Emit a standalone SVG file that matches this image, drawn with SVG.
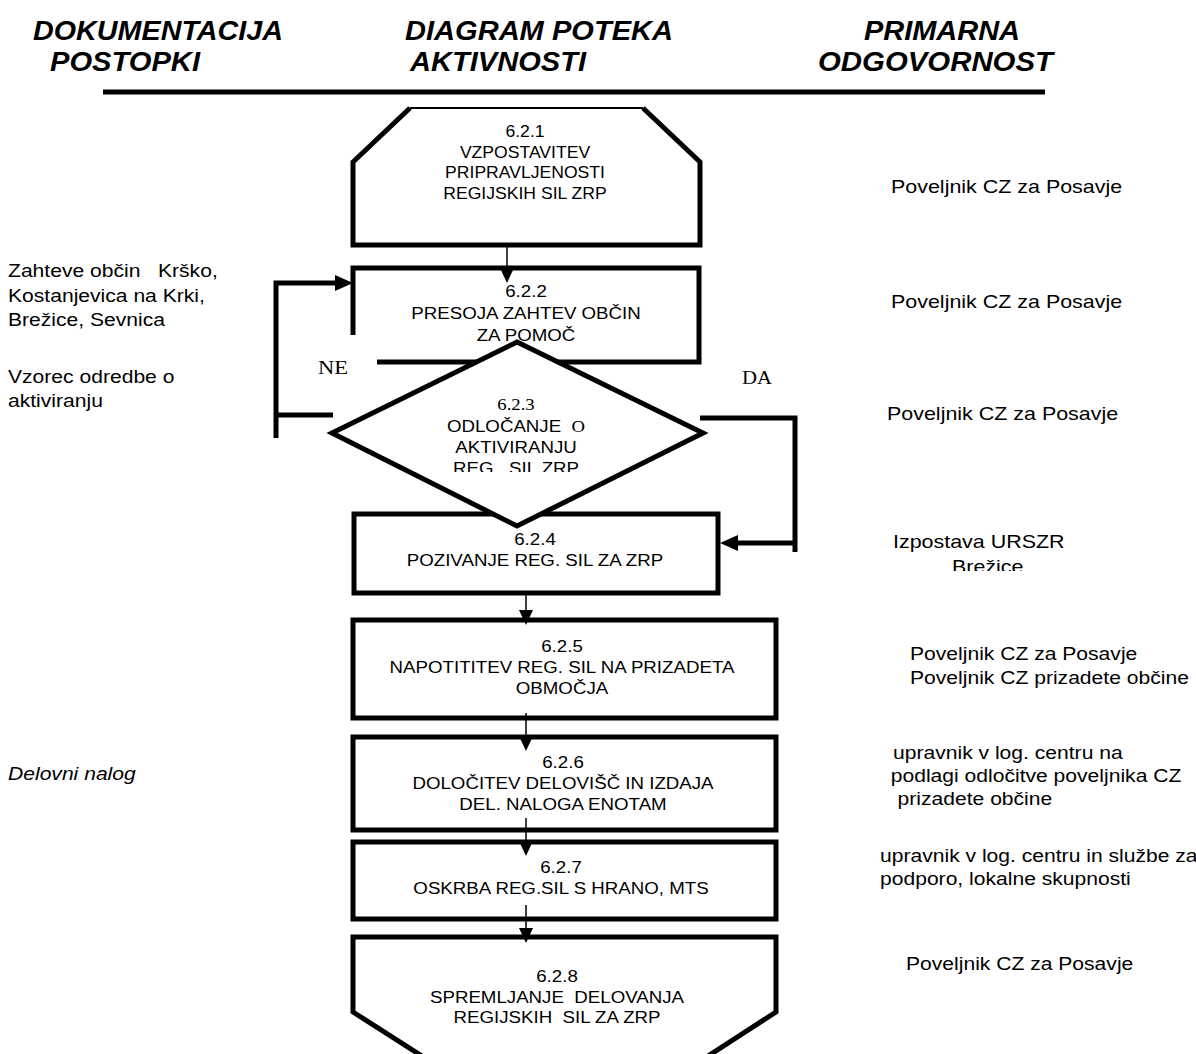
<svg xmlns="http://www.w3.org/2000/svg" width="1196" height="1054" viewBox="0 0 1196 1054">
<style>
text{white-space:pre}
.bx{fill:#fff;stroke:#000;stroke-width:5}
.op{fill:none;stroke:#000;stroke-width:5}
.fl{fill:#fff;stroke:none}
.cn{fill:none;stroke:#000;stroke-width:1.5}
.t{font-family:"Liberation Sans",Arial,sans-serif;font-size:17px;text-anchor:middle;fill:#000}
.s{font-family:"Liberation Sans",Arial,sans-serif;font-size:18.5px;fill:#000}
.tm{font-family:"Liberation Serif","Times New Roman",serif}
.hdr{font-family:"Liberation Sans",Arial,sans-serif;font-size:27px;font-weight:bold;font-style:italic;fill:#000}
</style>
<defs>
<marker id="ah" markerUnits="userSpaceOnUse" markerWidth="16" markerHeight="14" refX="0" refY="7" orient="auto"><path d="M0,0 L15,7 L0,14 z" fill="#000"/></marker>
<marker id="ahb" markerUnits="userSpaceOnUse" markerWidth="19" markerHeight="18" refX="0" refY="9" orient="auto"><path d="M0,1 L18,9 L0,17 z" fill="#000"/></marker>
<clipPath id="cd"><rect x="330" y="380" width="380" height="92"/></clipPath>
<clipPath id="cb"><rect x="850" y="530" width="346" height="41"/></clipPath>
</defs>
<rect width="1196" height="1054" fill="#fff"/>

<g id="header">
<text class="hdr" x="33" y="40" textLength="250" lengthAdjust="spacingAndGlyphs">DOKUMENTACIJA</text>
<text class="hdr" x="50" y="71" textLength="150" lengthAdjust="spacingAndGlyphs">POSTOPKI</text>
<text class="hdr" x="405" y="40" textLength="268" lengthAdjust="spacingAndGlyphs">DIAGRAM POTEKA</text>
<text class="hdr" x="410" y="71" textLength="176" lengthAdjust="spacingAndGlyphs">AKTIVNOSTI</text>
<text class="hdr" x="864" y="40" textLength="156" lengthAdjust="spacingAndGlyphs">PRIMARNA</text>
<text class="hdr" x="818" y="71" textLength="235" lengthAdjust="spacingAndGlyphs">ODGOVORNOST</text>
<line x1="103" y1="92" x2="1045" y2="92" stroke="#000" stroke-width="5"/>
</g>

<g id="n621">
<polygon class="fl" points="410,108 643,108 700,162 700,245 353,245 353,162"/>
<path class="op" d="M410,108 L353,162 V245 H700 V162 L643,108"/>
<line x1="410" y1="108" x2="643" y2="108" stroke="#000" stroke-width="2"/>
<text class="t" style="font-size:16px" transform="matrix(1.1 0 0 1 525 0)"><tspan x="0" y="137">6.2.1</tspan><tspan x="0" y="158">VZPOSTAVITEV</tspan><tspan x="0" y="178">PRIPRAVLJENOSTI</tspan><tspan x="0" y="199">REGIJSKIH SIL ZRP</tspan></text>
</g>

<g id="n622">
<path class="op" d="M353,335 V268 H699 V362 H377"/>
<text class="t" transform="matrix(1.1 0 0 1 526 0)"><tspan x="0" y="297">6.2.2</tspan><tspan x="0" y="319">PRESOJA ZAHTEV OBČIN</tspan><tspan x="0" y="341">ZA POMOČ</tspan></text>
</g>

<g id="n624">
<rect class="bx" x="354" y="514" width="364" height="79"/>
<text class="t" transform="matrix(1.1 0 0 1 535 0)"><tspan x="0" y="545">6.2.4</tspan><tspan x="0" y="566">POZIVANJE REG. SIL ZA ZRP</tspan></text>
</g>

<g id="n623">
<polygon class="bx" points="517,342 703,433 517,526 332,433"/>
<g clip-path="url(#cd)">
<text class="t" transform="matrix(1.1 0 0 1 516 0)"><tspan class="tm" x="0" y="410">6.2.3</tspan><tspan x="0" y="432">ODLOČANJE  <tspan class="tm">O</tspan></tspan><tspan x="0" y="453">AKTIVIRANJU</tspan><tspan x="0" y="474">REG.  SIL ZRP</tspan></text>
</g>
</g>

<g id="n625">
<rect class="bx" x="353" y="620" width="423" height="98"/>
<text class="t" transform="matrix(1.1 0 0 1 562 0)"><tspan x="0" y="652">6.2.5</tspan><tspan x="0" y="673">NAPOTITITEV REG. SIL NA PRIZADETA</tspan><tspan x="0" y="694">OBMOČJA</tspan></text>
</g>

<g id="n626">
<rect class="bx" x="353" y="737" width="423" height="93"/>
<text class="t" transform="matrix(1.1 0 0 1 563 0)"><tspan x="0" y="768">6.2.6</tspan><tspan x="0" y="789">DOLOČITEV DELOVIŠČ IN IZDAJA</tspan><tspan x="0" y="810">DEL. NALOGA ENOTAM</tspan></text>
</g>

<g id="n627">
<rect class="bx" x="353" y="842" width="423" height="77"/>
<text class="t" transform="matrix(1.1 0 0 1 561 0)"><tspan x="0" y="873">6.2.7</tspan><tspan x="0" y="894">OSKRBA REG.SIL S HRANO, MTS</tspan></text>
</g>

<g id="n628">
<polygon class="fl" points="425,1058 353,1012 353,937 776,937 776,1012 705,1058"/>
<path class="op" d="M425,1058 L353,1012 V937 H776 V1012 L705,1058"/>
<text class="t" transform="matrix(1.1 0 0 1 557 0)"><tspan x="0" y="982">6.2.8</tspan><tspan x="0" y="1003">SPREMLJANJE  DELOVANJA</tspan><tspan x="0" y="1023">REGIJSKIH  SIL ZA ZRP</tspan></text>
</g>

<g id="connectors">
<line class="cn" x1="507" y1="245" x2="507" y2="268" marker-end="url(#ah)"/>
<line class="cn" x1="526" y1="593" x2="526" y2="610" marker-end="url(#ah)"/>
<line class="cn" x1="526" y1="713" x2="526" y2="736" marker-end="url(#ah)"/>
<line class="cn" x1="526" y1="818" x2="526" y2="841" marker-end="url(#ah)"/>
<line class="cn" x1="526" y1="905" x2="526" y2="928" marker-end="url(#ah)"/>
<path class="op" d="M333,415 H276 M276,438 V283 H335" marker-end="url(#ahb)"/>
<path class="op" d="M700,418 H795 V552 M795,543 H738" marker-end="url(#ahb)"/>
<text class="tm" x="318" y="374" style="font-size:18.5px" textLength="30" lengthAdjust="spacingAndGlyphs">NE</text>
<text class="tm" x="742" y="384" style="font-size:18.5px" textLength="30" lengthAdjust="spacingAndGlyphs">DA</text>
</g>

<g id="left-notes">
<text class="s" transform="matrix(1.14 0 0 1 8 0)"><tspan x="0" y="277">Zahteve občin   Krško,</tspan><tspan x="0" y="302">Kostanjevica na Krki,</tspan><tspan x="0" y="326">Brežice, Sevnica</tspan></text>
<text class="s" transform="matrix(1.14 0 0 1 8 0)"><tspan x="0" y="383">Vzorec odredbe o</tspan><tspan x="0" y="407">aktiviranju</tspan></text>
<text class="s" style="font-style:italic" transform="matrix(1.14 0 0 1 8 0)"><tspan x="0" y="780">Delovni nalog</tspan></text>
</g>

<g id="right-notes">
<text class="s" transform="matrix(1.16 0 0 1 891 0)"><tspan x="0" y="193">Poveljnik CZ za Posavje</tspan></text>
<text class="s" transform="matrix(1.16 0 0 1 891 0)"><tspan x="0" y="308">Poveljnik CZ za Posavje</tspan></text>
<text class="s" transform="matrix(1.16 0 0 1 887 0)"><tspan x="0" y="420">Poveljnik CZ za Posavje</tspan></text>
<text class="s" transform="matrix(1.16 0 0 1 893 0)"><tspan x="0" y="548">Izpostava URSZR</tspan></text>
<g clip-path="url(#cb)"><text class="s" transform="matrix(1.16 0 0 1 952 0)"><tspan x="0" y="573">Brežice</tspan></text></g>
<text class="s" transform="matrix(1.14 0 0 1 910 0)"><tspan x="0" y="660">Poveljnik CZ za Posavje</tspan><tspan x="0" y="684">Poveljnik CZ prizadete občine</tspan></text>
<text class="s" transform="matrix(1.14 0 0 1 893 0)"><tspan x="0" y="759">upravnik v log. centru na</tspan><tspan x="-2" y="782">podlagi odločitve poveljnika CZ</tspan><tspan x="4" y="805">prizadete občine</tspan></text>
<text class="s" transform="matrix(1.14 0 0 1 880 0)"><tspan x="0" y="862">upravnik v log. centru in službe za</tspan><tspan x="0" y="885">podporo, lokalne skupnosti</tspan></text>
<text class="s" transform="matrix(1.14 0 0 1 906 0)"><tspan x="0" y="970">Poveljnik CZ za Posavje</tspan></text>
</g>
</svg>
